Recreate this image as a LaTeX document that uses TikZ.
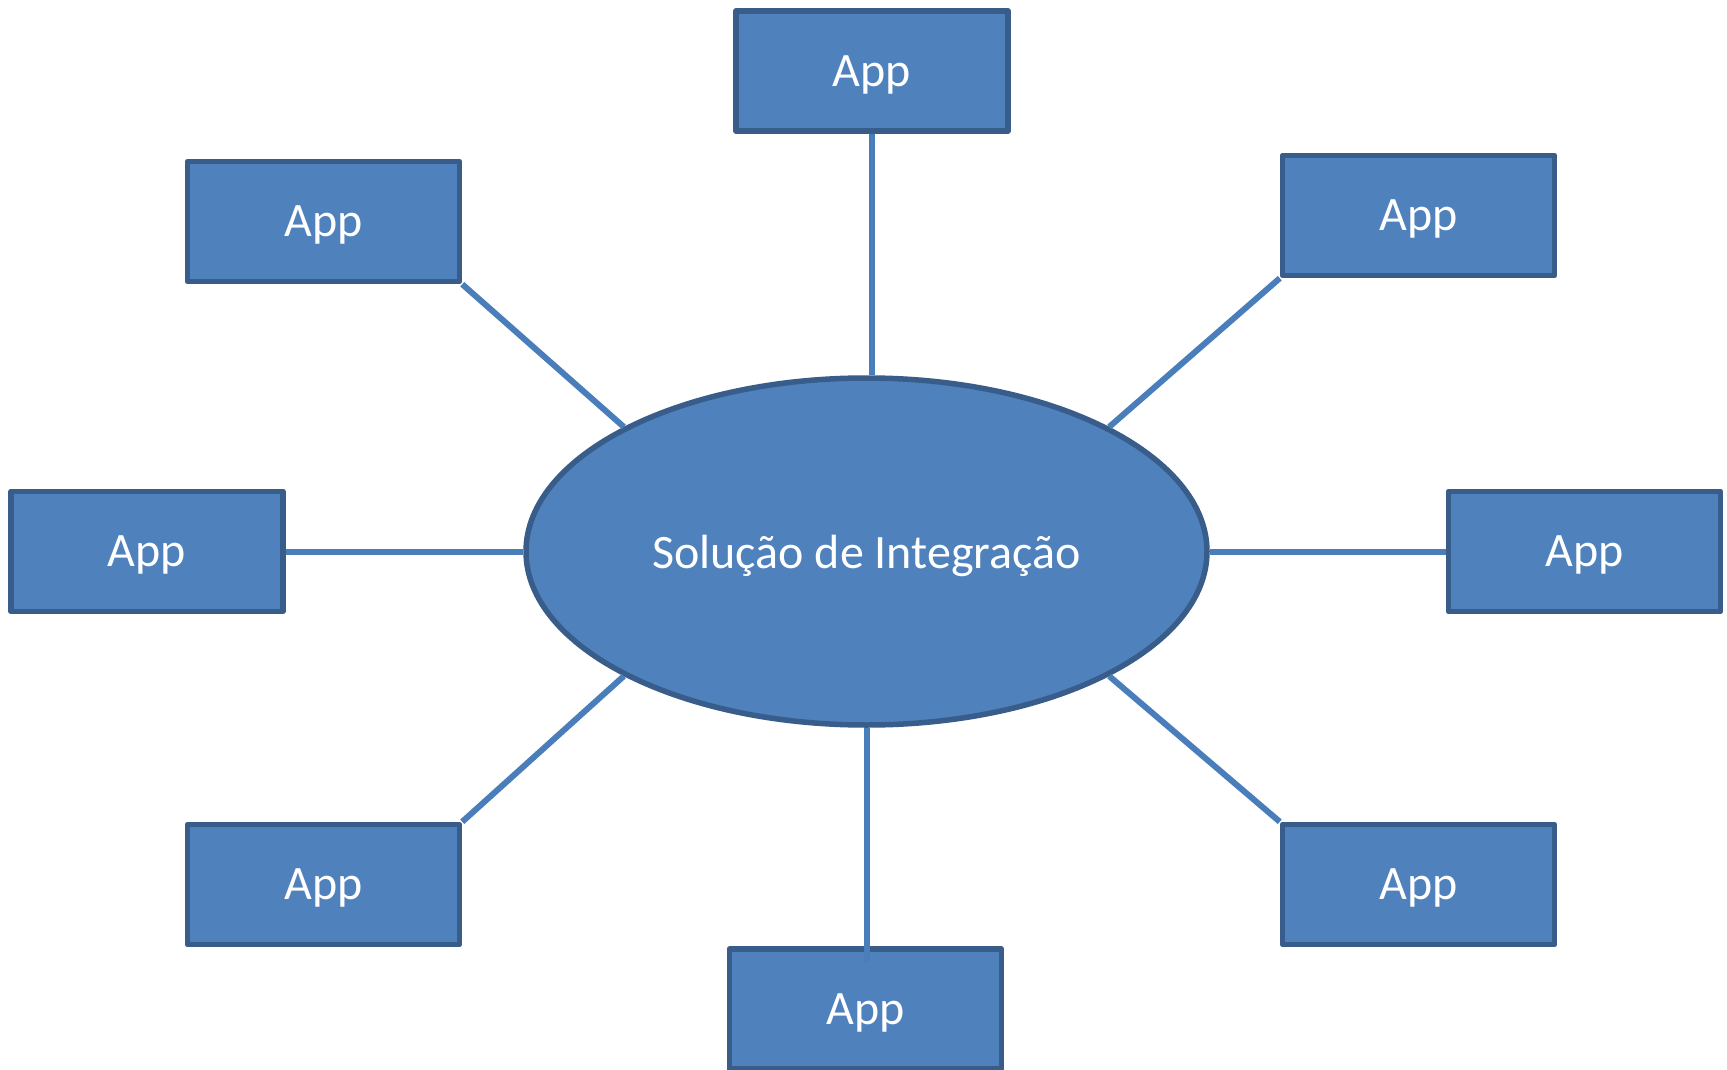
\documentclass[tikz,border=0pt]{standalone}
\usepackage{fontspec}
\setmainfont{Carlito}
\usetikzlibrary{shapes.geometric,calc}
\definecolor{boxfill}{HTML}{4F81BD}
\definecolor{boxline}{HTML}{385D8A}
\definecolor{linkline}{HTML}{4A7EBB}
\begin{document}
\begin{tikzpicture}[x=1pt,y=-1pt,
  appbox/.style={draw=boxline, fill=boxfill, line width=5.5pt, line join=round,
    minimum width=272pt, minimum height=120pt, inner sep=0pt, text depth=0pt,
    text=white, font=\fontsize{48}{57}\selectfont},
  hub/.style={ellipse, draw=boxline, fill=boxfill, line width=5.5pt,
    minimum width=681pt, minimum height=347pt, inner sep=0pt, text depth=0pt,
    text=white, font=\fontsize{48}{57}\selectfont},
  link/.style={draw=linkline, line width=6pt}]
\useasboundingbox (0,0) rectangle (1727,1070);
\clip (0,0) rectangle (1727,1070);
\fill[white] (0,0) rectangle (1727,1070);

\node[hub] (ell) at (866.5,551.5) {Solução de Integração};

\node[appbox] (top) at (872,71) {App};
\node[appbox] (ul) at (323.5,221.5) {App};
\node[appbox] (ur) at (1418.5,215.5) {App};
\node[appbox] (l) at (147,551.5) {App};
\node[appbox] (r) at (1584.5,551.5) {App};
\node[appbox] (ll) at (323.5,884.5) {App};
\node[appbox] (lr) at (1418.5,884.5) {App};
\node[appbox] (bot) at (865.5,1009) {App};

\draw[link] (top.south) -- (top.south |- ell.north);
\draw[link] (ul.south east) -- (ell.north west);
\draw[link] (ur.south west) -- (ell.north east);
\draw[link] (l.east) -- (ell.west);
\draw[link] (ell.east) -- (r.west);
\draw[link] (ll.north east) -- (ell.south west);
\draw[link] (lr.north west) -- (ell.south east);
\coordinate (botend) at ($(ell.south |- bot.north)+(0,16)$);
\draw[link] (ell.south) -- (botend);
\end{tikzpicture}
\end{document}
